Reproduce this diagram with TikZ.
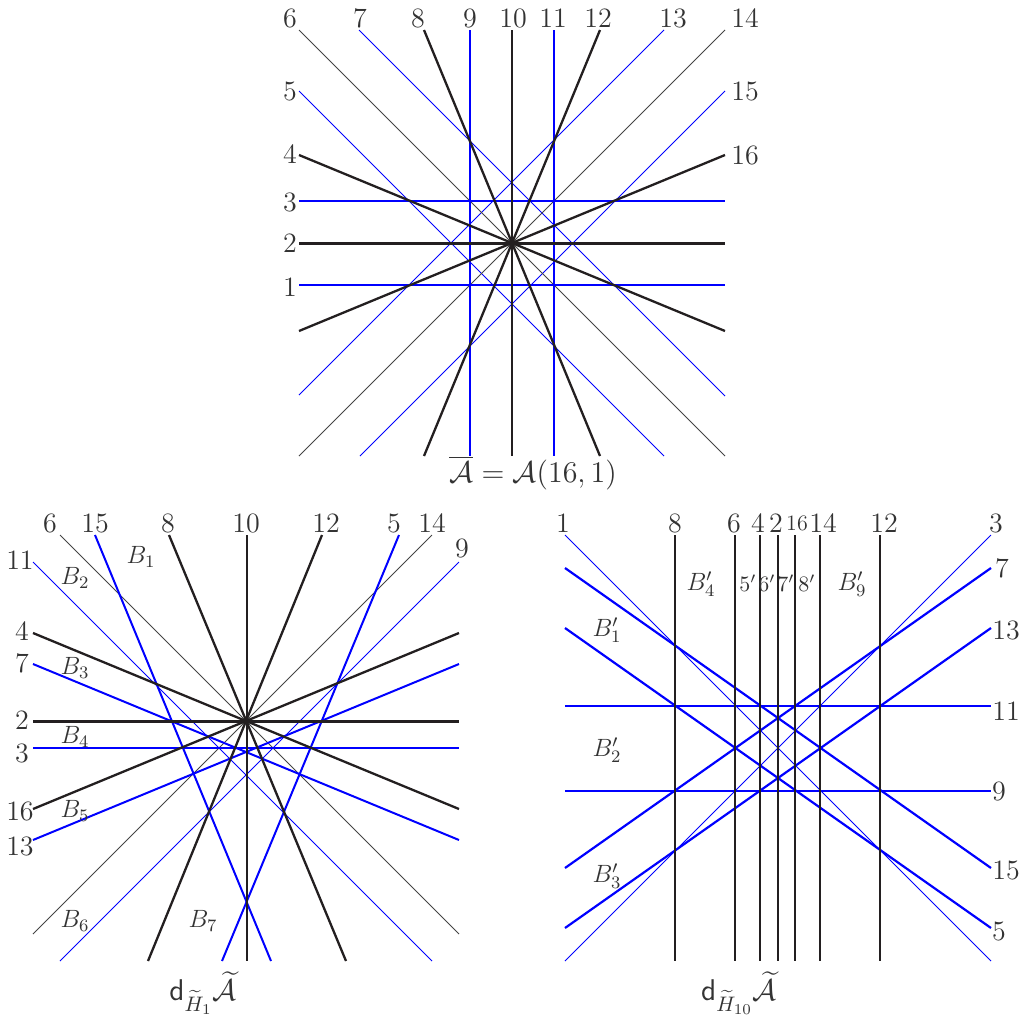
\RequirePackage{fix-cm}
\documentclass[tikz,border=0pt]{standalone}
\usepackage{amsmath,amssymb}
\definecolor{ink}{HTML}{231F20}
\definecolor{dgray}{HTML}{444444}
\definecolor{lblue}{HTML}{0000FF}
\definecolor{txt}{HTML}{333333}
\tikzset{el/.style={line cap=butt, line join=round},
  bthin/.style={lblue,line width=0.5pt},
  bmed/.style={lblue,line width=1pt},
  gthin/.style={dgray,line width=0.5pt},
  kmed/.style={ink,line width=0.85pt},
  kthick/.style={ink,line width=1.15pt},
  lab/.style={text=txt,inner sep=0pt,font=\fontsize{14}{17}\selectfont},
  blab/.style={text=txt,inner sep=0pt,font=\fontsize{12.5}{15}\selectfont},
  slab/.style={text=txt,inner sep=0pt,font=\fontsize{11}{13}\selectfont},
  captxt/.style={text=txt,inner sep=0pt,font=\fontsize{15}{18}\selectfont}}

\begin{document}
\begin{tikzpicture}[el,x=0.5pt,y=-0.5pt]
  \useasboundingbox (0,0) rectangle (1023,1019);
  % A(16,1)
  \foreach \xa/\ya/\xb/\yb in {359/30/725/396,299/91/664/456,664/30/299/395,725/91/360/456}
    {\draw[bthin] (\xa,\ya)--(\xb,\yb);}
  \draw[gthin] (299,30)--(725,456) (725,30)--(299,456);
  \foreach \xa/\ya/\xb/\yb in {470/30/470/456,554/30/554/456,299/201/725/201,299/285/725/285}
    {\draw[bmed] (\xa,\ya)--(\xb,\yb);}
  \foreach \xa/\ya/\xb/\yb in {424/30/600/456,600/30/424/456,299/155/725/331,725/155/299/331}
    {\draw[kthick] (\xa,\ya)--(\xb,\yb);}
  \draw[ink,line width=1.5pt] (299,243)--(725,243);
  \draw[kmed] (512,30)--(512,456);
  \foreach \t/\x/\y in {6/290/18,7/360/18,8/418/18,9/470/18,10/513/18,11/553/18,12/598/18,13/673/18,14/745/18,
      5/290/91,15/745/91,4/290/154,16/745/155,3/290/202,2/290/243,1/290/287}
    {\node[lab] (a\t) at (\x,\y) {\t};}
  \node[captxt] (acap) at (533,473) {$\overline{\mathcal{A}}=\mathcal{A}(16,1)$};

  % d_H1
  \draw[bthin] (33,562)--(432,961) (459,562)--(60,961);
  \draw[gthin] (60,535)--(459,934) (432,535)--(33,934);
  \foreach \xa/\ya/\xb/\yb in {95/535/271/961,399/535/222/961,33/664/459/840,33/840/459/664,33/748/459/748}
    {\draw[bmed] (\xa,\ya)--(\xb,\yb);}
  \foreach \xa/\ya/\xb/\yb in {33/633/459/809,33/809/459/633,169/535/346/961,322/535/148/961}
    {\draw[kthick] (\xa,\ya)--(\xb,\yb);}
  \draw[ink,line width=1.5pt] (33,721)--(459,721);
  \draw[kmed] (247,535)--(247,961);
  \foreach \t/\x/\y in {6/50/523,15/95/523,8/168/523,10/246/523,12/326/523,5/394/523,14/432/523,9/462/548,
      11/20/560,4/22/631,7/22/663,2/22/720,3/22/753,16/20/811,13/20/846}
    {\node[lab] (b\t) at (\x,\y) {\t};}
  \foreach \i/\x/\y in {1/141/557,2/75/578,3/75/668,4/75/737,5/75/811,6/75/921,7/203/921}
    {\node[blab] (bB\i) at (\x,\y) {$B_{\i}$};}
  \node[captxt] (bcap) at (203,993) {$\mathsf{d}_{\widetilde{H}_1}\widetilde{\mathcal{A}}$};

  % d_H10
  \draw[bthin] (565,535)--(991,961) (991,535)--(565,961);
  \foreach \xa/\ya/\xb/\yb in {991/568/565/868,991/628/565/928,565/568/991/868,565/628/991/928,565/706/991/706,565/791/991/791}
    {\draw[lblue,line width=1.1pt] (\xa,\ya)--(\xb,\yb);}
  \foreach \x in {675,735,760,778,820,880}
    {\draw[kmed] (\x,535)--(\x,961);}
  \draw[kthick] (795,535)--(795,961);
  \foreach \t/\x/\y in {1/563/523,8/675/523,6/734/523,4/758/523,2/776/523,14/823/523,12/884/523,3/996/523,
      7/1002/568,13/1006/630,11/1006/711,9/999/791,15/1006/870,5/999/931}
    {\node[lab] (c\t) at (\x,\y) {\t};}
  \node[slab] (c16) at (797,523) {16};
  \foreach \i/\x/\y in {4/701/584,9/852/584,1/607/630,2/607/750,3/607/876}
    {\node[blab] (cB\i) at (\x,\y) {$B'_{\i}$};}
  \foreach \i/\x in {5/748,6/767,7/786,8/807}
    {\node[slab] (cp\i) at (\x,583) {$\i'$};}
  \node[captxt] (ccap) at (739,993) {$\mathsf{d}_{\widetilde{H}_{10}}\widetilde{\mathcal{A}}$};
\end{tikzpicture}
\end{document}
